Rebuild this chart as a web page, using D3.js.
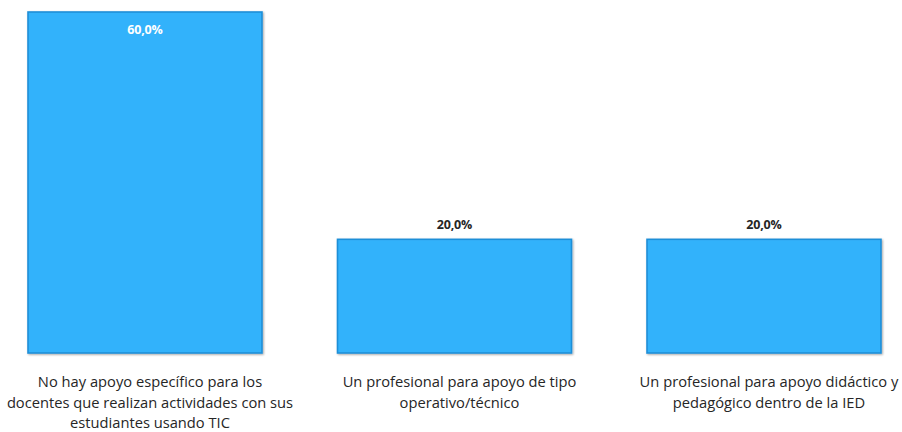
<!DOCTYPE html>
<html>
<head>
<meta charset="utf-8">
<script src="https://cdn.jsdelivr.net/npm/d3@7"></script>
<style>
  html, body { margin: 0; padding: 0; background: #fff; }
  svg { display: block; }
</style>
</head>
<body>
<svg id="chart" width="902" height="432"></svg>
<script>
// Apoyo disponible para docentes que usan TIC
const categories = [
  "No hay apoyo específico para los docentes que realizan actividades con sus estudiantes usando TIC",
  "Un profesional para apoyo de tipo operativo/técnico",
  "Un profesional para apoyo didáctico y pedagógico dentro de la IED"
];
const categoryLines = [
  ["No hay apoyo específico para los", "docentes que realizan actividades con sus", "estudiantes usando TIC"],
  ["Un profesional para apoyo de tipo", "operativo/técnico"],
  ["Un profesional para apoyo didáctico y", "pedagógico dentro de la IED"]
];
const values = [0.60, 0.20, 0.20];

const svg = d3.select("#chart");
const baseY = 353, topY = 12;

const esLocale = d3.formatLocale({ decimal: ",", thousands: ".", grouping: [3], currency: ["", "€"] });
const fmt = esLocale.format(".1%");

const x = d3.scaleBand()
  .domain(categories)
  .range([0, 909])
  .paddingInner(0.244)
  .paddingOuter(0.0905);

const y = d3.scaleLinear()
  .domain([0, 0.60])
  .range([baseY, topY]);

const defs = svg.append("defs");
const shadow = defs.append("filter").attr("id", "shadow")
  .attr("x", "-5%").attr("y", "-5%").attr("width", "110%").attr("height", "110%");
shadow.append("feGaussianBlur").attr("in", "SourceAlpha").attr("stdDeviation", 1.2).attr("result", "b");
shadow.append("feOffset").attr("in", "b").attr("dx", 0.5).attr("dy", 0.8).attr("result", "o");
shadow.append("feComponentTransfer").attr("in", "o").attr("result", "o2")
  .append("feFuncA").attr("type", "linear").attr("slope", 0.35);
const merge = shadow.append("feMerge");
merge.append("feMergeNode").attr("in", "o2");
merge.append("feMergeNode").attr("in", "SourceGraphic");

const data = categories.map((c, i) => ({ c, v: values[i], lines: categoryLines[i] }));

svg.append("g").selectAll("rect")
  .data(data)
  .join("rect")
  .attr("x", d => x(d.c))
  .attr("y", d => y(d.v))
  .attr("width", x.bandwidth())
  .attr("height", d => y(0) - y(d.v))
  .attr("fill", "#33b2fb")
  .attr("stroke", "#1f8fd8")
  .attr("stroke-width", 1.6)
  .attr("filter", "url(#shadow)");

// value labels: inside the tallest bar, above the others
svg.append("g").selectAll("text")
  .data(data)
  .join("text")
  .attr("x", d => x(d.c) + x.bandwidth() / 2)
  .attr("y", d => d.v >= 0.5 ? y(d.v) + 22 : y(d.v) - 10)
  .attr("text-anchor", "middle")
  .attr("font-family", "'Open Sans', sans-serif")
  .attr("font-weight", "bold")
  .attr("font-size", 12.5)
  .attr("letter-spacing", -0.2)
  .attr("fill", d => d.v >= 0.5 ? "#ffffff" : "#262626")
  .text(d => fmt(d.v));

// category labels under each bar
const labels = svg.append("g").selectAll("text")
  .data(data)
  .join("text")
  .attr("x", d => x(d.c) + x.bandwidth() / 2 + 5)
  .attr("y", 387)
  .attr("text-anchor", "middle")
  .attr("font-family", "'Open Sans', sans-serif")
  .attr("font-size", 14.7)
  .attr("fill", "#262626");
labels.selectAll("tspan")
  .data(d => d.lines.map(t => ({ t, cx: x(d.c) + x.bandwidth() / 2 + 5 })))
  .join("tspan")
  .attr("x", d => d.cx)
  .attr("dy", (d, i) => i === 0 ? 0 : 20.5)
  .text(d => d.t);
</script>
</body>
</html>
